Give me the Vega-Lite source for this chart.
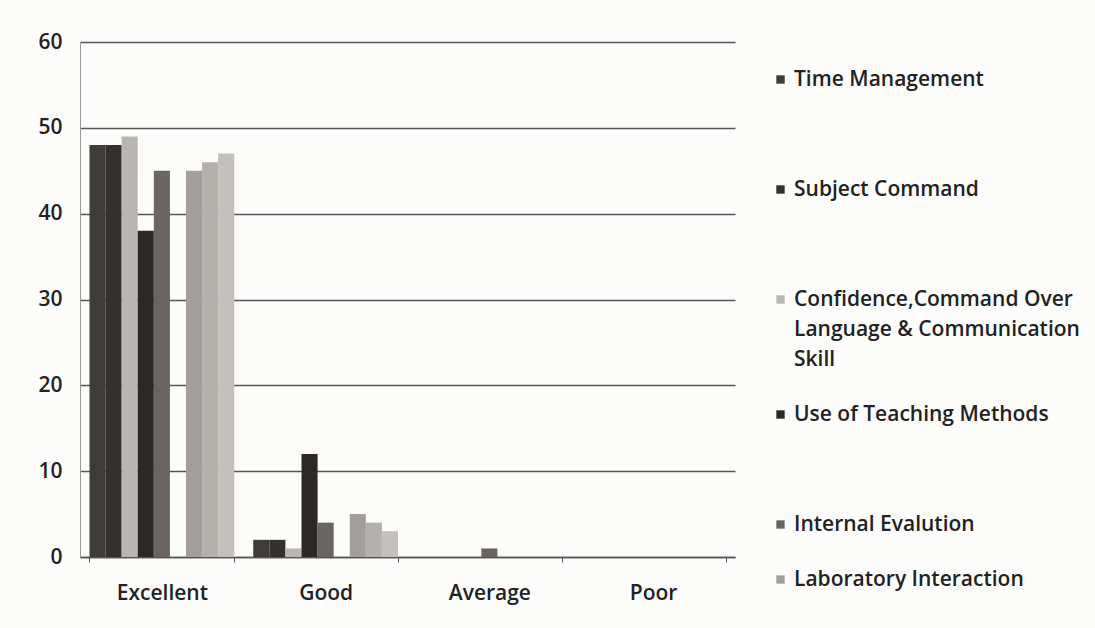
{
  "$schema": "https://vega.github.io/schema/vega-lite/v6.json",
  "autosize": "none",
  "width": 655,
  "height": 515,
  "padding": {"left": 80, "top": 42, "right": 360, "bottom": 71},
  "background": "#fcfcfb",
  "config": {
    "font": "Open Sans",
    "view": {"stroke": null},
    "axis": {"labelFont": "Open Sans", "labelColor": "#222", "labelFontSize": 21, "labelFontWeight": 600}
  },
  "data": {
    "values": [
      {"rating": "Excellent", "series": "Time Management", "value": 48},
      {"rating": "Excellent", "series": "Subject Command", "value": 48},
      {"rating": "Excellent", "series": "Confidence,Command Over Language & Communication Skill", "value": 49},
      {"rating": "Excellent", "series": "Use of Teaching Methods", "value": 38},
      {"rating": "Excellent", "series": "Internal Evalution", "value": 45},
      {"rating": "Excellent", "series": " ", "value": 0},
      {"rating": "Excellent", "series": "Laboratory Interaction", "value": 45},
      {"rating": "Excellent", "series": "  ", "value": 46},
      {"rating": "Excellent", "series": "   ", "value": 47},
      {"rating": "Good", "series": "Time Management", "value": 2},
      {"rating": "Good", "series": "Subject Command", "value": 2},
      {"rating": "Good", "series": "Confidence,Command Over Language & Communication Skill", "value": 1},
      {"rating": "Good", "series": "Use of Teaching Methods", "value": 12},
      {"rating": "Good", "series": "Internal Evalution", "value": 4},
      {"rating": "Good", "series": " ", "value": 0},
      {"rating": "Good", "series": "Laboratory Interaction", "value": 5},
      {"rating": "Good", "series": "  ", "value": 4},
      {"rating": "Good", "series": "   ", "value": 3},
      {"rating": "Average", "series": "Time Management", "value": 0},
      {"rating": "Average", "series": "Subject Command", "value": 0},
      {"rating": "Average", "series": "Confidence,Command Over Language & Communication Skill", "value": 0},
      {"rating": "Average", "series": "Use of Teaching Methods", "value": 0},
      {"rating": "Average", "series": "Internal Evalution", "value": 1},
      {"rating": "Average", "series": " ", "value": 0},
      {"rating": "Average", "series": "Laboratory Interaction", "value": 0},
      {"rating": "Average", "series": "  ", "value": 0},
      {"rating": "Average", "series": "   ", "value": 0},
      {"rating": "Poor", "series": "Time Management", "value": 0},
      {"rating": "Poor", "series": "Subject Command", "value": 0},
      {"rating": "Poor", "series": "Confidence,Command Over Language & Communication Skill", "value": 0},
      {"rating": "Poor", "series": "Use of Teaching Methods", "value": 0},
      {"rating": "Poor", "series": "Internal Evalution", "value": 0},
      {"rating": "Poor", "series": " ", "value": 0},
      {"rating": "Poor", "series": "Laboratory Interaction", "value": 0},
      {"rating": "Poor", "series": "  ", "value": 0},
      {"rating": "Poor", "series": "   ", "value": 0}
    ]
  },
  "mark": {"type": "bar"},
  "encoding": {
    "x": {
      "field": "rating",
      "type": "nominal",
      "sort": ["Excellent", "Good", "Average", "Poor"],
      "scale": {"paddingInner": 0.116, "paddingOuter": 0.058},
      "axis": {
        "title": null,
        "labelAngle": 0,
        "labelPadding": 20,
        "domainColor": "#555",
        "domainWidth": 1.5,
        "tickColor": "#555",
        "tickBand": "extent",
        "tickSize": 5
      }
    },
    "xOffset": {
      "field": "series",
      "type": "nominal",
      "scale": {
        "domain": ["Time Management", "Subject Command", "Confidence,Command Over Language & Communication Skill", "Use of Teaching Methods", "Internal Evalution", " ", "Laboratory Interaction", "  ", "   "],
        "paddingInner": 0,
        "paddingOuter": 0
      }
    },
    "y": {
      "field": "value",
      "type": "quantitative",
      "scale": {"domain": [0, 60]},
      "axis": {
        "title": null,
        "values": [0, 10, 20, 30, 40, 50, 60],
        "labelOverlap": false,
        "ticks": false,
        "labelPadding": 18,
        "domain": true,
        "domainColor": "#999",
        "gridColor": "#555",
        "gridWidth": 1.5
      }
    },
    "color": {
      "field": "series",
      "type": "nominal",
      "scale": {
        "domain": ["Time Management", " ", "Subject Command", "  ", "Confidence,Command Over Language & Communication Skill", "Use of Teaching Methods", "   ", "Internal Evalution", "Laboratory Interaction"],
        "range": ["#3f3b38", "#a9a5a1", "#33302e", "#b4b0ac", "#b9b5b1", "#2b2826", "#c3bfbb", "#6a6561", "#a39e9c"]
      },
      "legend": {
        "title": null,
        "orient": "none",
        "legendX": 690,
        "legendY": 27,
        "symbolType": "square",
        "symbolSize": 70,
        "symbolStrokeWidth": 0,
        "labelFont": "Open Sans",
        "labelFontSize": 21,
        "labelFontWeight": 600,
        "labelColor": "#222",
        "labelLimit": 330,
        "rowPadding": 33,
        "labelOffset": 3,
        "labelExpr": "datum.value == 'Confidence,Command Over Language & Communication Skill' ? ['Confidence,Command Over', 'Language & Communication', 'Skill'] : datum.value",
        "encode": {
          "symbols": {"update": {"opacity": {"signal": "trim(datum.value) == '' ? 0 : 1"}}},
          "labels": {"update": {"lineHeight": {"value": 30}}}
        }
      }
    }
  }
}
